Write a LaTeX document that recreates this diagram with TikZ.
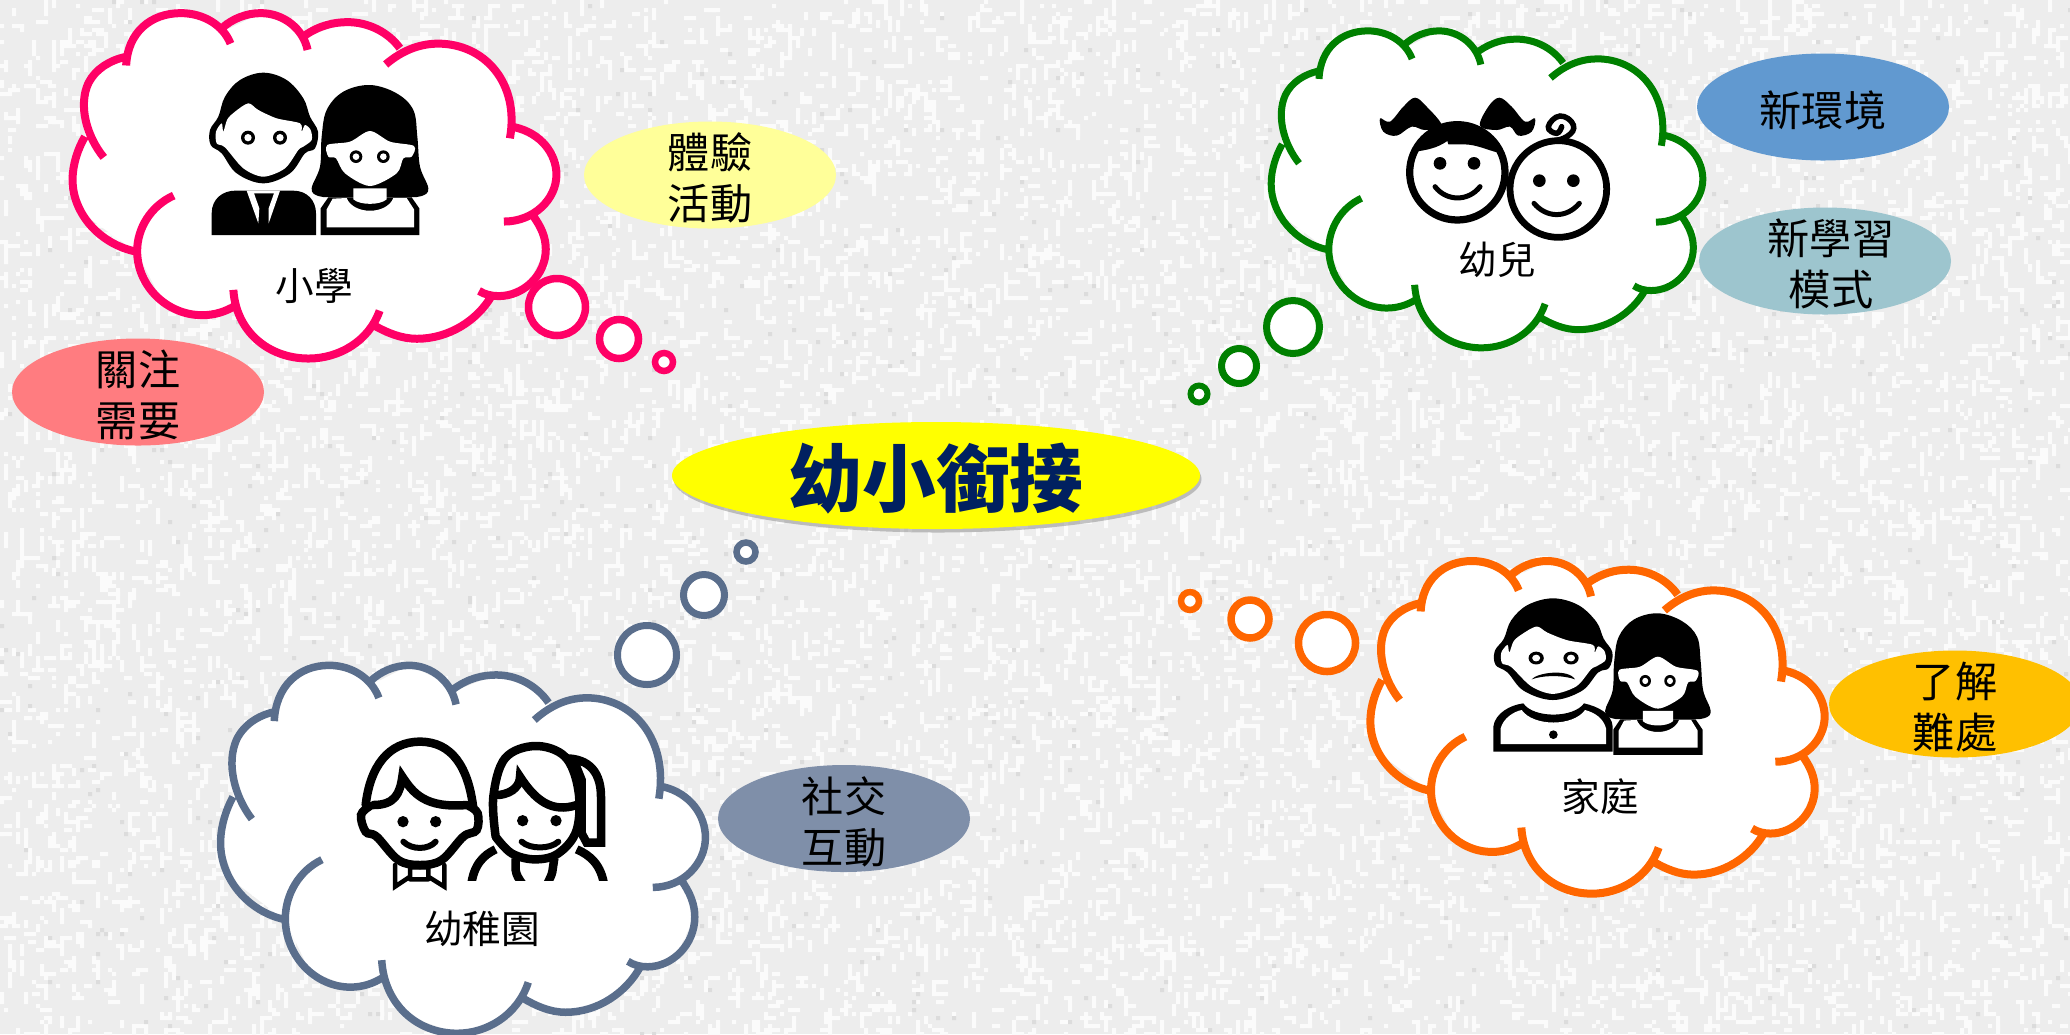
\documentclass[tikz,border=0pt]{standalone}
\usepackage{fontspec}
\setmainfont{Noto Sans CJK TC}
\usetikzlibrary{shapes.geometric}
\usetikzlibrary{shadows}
\definecolor{paper}{HTML}{EDEDED}
\definecolor{specklight}{HTML}{FBFBFB}
\definecolor{speckdark}{HTML}{DCDCDC}
\definecolor{pinkline}{HTML}{FF0066}
\definecolor{greenline}{HTML}{008000}
\definecolor{slateline}{HTML}{5A6E8C}
\definecolor{orangeline}{HTML}{FF6600}
\definecolor{navytext}{HTML}{002060}
\definecolor{brightyellow}{HTML}{FFFF00}
\definecolor{paleyellow}{HTML}{FFFF99}
\definecolor{salmon}{HTML}{FF7C80}
\definecolor{skyblue}{HTML}{6199D0}
\definecolor{paleteal}{HTML}{9DC5CE}
\definecolor{slatefill}{HTML}{7F8FA9}
\definecolor{amber}{HTML}{FFC000}

\tikzset{
    bubble/.style={circle,fill=white,inner sep=0pt,minimum size={(2*#1-7)*0.2mm}},
    side label/.style={ellipse,inner sep=0pt,minimum width=50.4mm,minimum height=21.4mm},
    side text/.style={inner sep=0pt,align=center,yshift=-0.6mm,font=\fontsize{24}{29}\selectfont},
    cloud label/.style={inner sep=0pt,font=\fontsize{22}{26}\selectfont},
    thick ink/.style={black,line width=#1*0.2mm,line cap=round},
    womanicon/.pic={
        \fill plot[smooth cycle,tension=.6] coordinates {(540,75) (460,95) (410,150) (395,230)
            (390,320) (365,385) (385,408) (440,412) (640,412) (695,408) (715,385) (690,320)
            (682,230) (670,150) (620,100)};
        \fill (392,525) -- (392,445) -- (415,412) -- (665,412) -- (688,445) -- (688,525) -- cycle;
        \fill[white] plot[smooth cycle,tension=.5] coordinates {(412,255) (480,245) (540,213)
            (600,245) (672,258) (665,290) (640,295) (620,340) (540,378) (465,340) (438,295) (415,290)};
        \fill[white] (490,385) -- (590,385) -- (590,418) .. controls (570,436) and (510,436) .. (490,418) -- cycle;
        \fill[white] (410,502) -- (410,448) -- (428,416) -- (470,414) .. controls (490,465) and (590,465) .. (610,414)
            -- (650,414) -- (672,448) -- (672,502) -- cycle;
        \fill (498,290) circle[radius=19] (580,290) circle[radius=19];
        \fill[white] (498,290) circle[radius=10] (580,290) circle[radius=10];
    },
    manhead/.pic={
        \fill plot[smooth cycle,tension=.6] coordinates {(85,170) (105,110) (150,60) (220,38) (290,60)
            (340,115) (360,170) (384,215) (375,265) (345,280) (300,340) (220,370) (140,340)
            (95,280) (62,255) (60,210)};
        \fill[white] plot[smooth cycle,tension=.5] coordinates {(112,178) (135,155) (175,130) (205,150)
            (260,175) (330,190) (335,215) (345,195) (362,210) (365,240) (340,260) (325,270)
            (285,325) (220,350) (160,325) (105,262) (80,250) (78,215) (95,190) (100,215)};
        \fill (174,233) circle[radius=21] (270,233) circle[radius=21];
        \fill[white] (174,233) circle[radius=11] (270,233) circle[radius=11];
    }
}

% one cloud, lobe by lobe: left, top, width, height, colour, line width
\newcommand{\thoughtcloud}[6]{
    \pgfmathsetmacro{\sx}{#3/1383}
    \pgfmathsetmacro{\sy}{#4/1015}
    \begin{scope}[shift={({#1-80*\sx},{#2-55*\sy})},xscale=\sx,yscale=\sy]
    \fill[white] (125,420) -- (118,340) -- (150,240) -- (241,195) -- (265,130) -- (320,80) -- (395,64)
        -- (480,90) -- (518,115) -- (620,64) -- (720,110) -- (745,135) -- (860,90) -- (960,120) -- (1005,170)
        -- (1120,152) -- (1260,200) -- (1330,350) -- (1330,392) -- (1420,450) -- (1453,530) -- (1425,600) -- (1385,640)
        -- (1423,745) -- (1370,850) -- (1285,880) -- (1265,885) -- (1190,970) -- (1060,1003) -- (940,970)
        -- (900,1020) -- (755,1060) -- (620,1015) -- (548,910) -- (455,935) -- (340,890) -- (272,755)
        -- (130,650) -- (90,545) -- cycle;
    \draw[#5,line width=#6*0.2mm]
        (178,480) .. controls (130,420) and (105,330) .. (135,265) .. controls (155,225) and (195,200) .. (240,190)
        (241,215) .. controls (245,120) and (310,64) .. (395,64) .. controls (460,64) and (515,100) .. (535,152)
        (510,108) .. controls (540,80) and (580,64) .. (620,64) .. controls (685,64) and (740,110) .. (752,170)
        (745,128) .. controls (785,100) and (825,90) .. (865,90) .. controls (925,90) and (980,120) .. (1012,165)
        (972,212) .. controls (1020,170) and (1070,152) .. (1120,152) .. controls (1250,152) and (1350,265) .. (1322,425)
        (1335,393) .. controls (1410,410) and (1453,470) .. (1453,530) .. controls (1453,600) and (1390,665) .. (1305,665)
        (1385,645) .. controls (1410,680) and (1423,710) .. (1423,745) .. controls (1423,820) and (1360,880) .. (1290,880) .. controls (1270,880) and (1250,875) .. (1235,865)
        (1270,880) .. controls (1230,950) and (1150,1003) .. (1060,1003) .. controls (1015,1003) and (975,985) .. (940,965)
        (955,922) .. controls (925,1010) and (840,1060) .. (755,1060) .. controls (640,1060) and (550,980) .. (543,862)
        (375,590) .. controls (310,620) and (272,685) .. (272,750) .. controls (272,850) and (355,935) .. (455,935) .. controls (490,935) and (520,925) .. (548,908)
        (270,752) .. controls (165,730) and (90,640) .. (90,545) .. controls (90,500) and (105,455) .. (125,420);
    \end{scope}
}

\begin{document}
\begin{tikzpicture}[x=0.2mm,y=-0.2mm]
    \useasboundingbox (0,0) rectangle (2070,1034);
    \fill[paper] (0,0) rectangle (2070,1034);

    % speckled paper
    \pgfmathsetseed{7}
    \foreach \k in {1,...,20}{
        \fill[specklight] \foreach \i in {1,...,300}{ ({4*random(0,517)},{4*random(0,258)}) rectangle +(4,{4*random(1,4)}) };
        \fill[specklight] \foreach \i in {1,...,300}{ ({4*random(0,517)},{4*random(0,258)}) rectangle +({4*random(1,3)},4) };
    }
    \foreach \k in {1,...,4}{
        \fill[speckdark] \foreach \i in {1,...,200}{ ({4*random(0,517)},{4*random(0,258)}) rectangle +(4,4) };
    }

    % clouds
    \thoughtcloud{69}{10}{491}{352}{pinkline}{8}
    \thoughtcloud{1268}{28}{438}{323}{greenline}{7}
    \thoughtcloud{217}{662}{492}{375}{slateline}{7.5}
    \thoughtcloud{1367}{558}{461}{339}{orangeline}{8}

    % bubbles
    \node[bubble=32,draw=pinkline,line width=1.5mm] (pinkbig) at (557,307) {};
    \node[bubble=23,draw=pinkline,line width=1.5mm] (pinkmid) at (619,339) {};
    \node[bubble=13.5,minimum size=3.6mm,draw=pinkline,line width=1.3mm] (pinksmall) at (664,362) {};
    \node[bubble=30,draw=greenline,line width=1.4mm] (greenbig) at (1293,327) {};
    \node[bubble=21,draw=greenline,line width=1.4mm] (greenmid) at (1239,366) {};
    \node[bubble=12,minimum size=3.4mm,draw=greenline,line width=1.2mm] (greensmall) at (1199,394) {};
    \node[bubble=33,draw=slateline,line width=1.4mm] (slatebig) at (647,655) {};
    \node[bubble=24,draw=slateline,line width=1.4mm] (slatemid) at (704,595) {};
    \node[bubble=14,minimum size=3.8mm,draw=slateline,line width=1.3mm] (slatesmall) at (746,552) {};
    \node[bubble=32,draw=orangeline,line width=1.5mm] (orangebig) at (1327,643) {};
    \node[bubble=22.5,draw=orangeline,line width=1.5mm] (orangemid) at (1250,619) {};
    \node[bubble=13,minimum size=3.6mm,draw=orangeline,line width=1.3mm] (orangesmall) at (1190,601) {};

    % teachers
    \begin{scope}[shift={(190,60)},scale=1/3]
    \pic[transform shape] at (0,0) {manhead};
    \pic[transform shape] at (0,0) {womanicon};
    \fill (65,525) -- (65,460) .. controls (65,415) and (100,392) .. (135,392) -- (310,392)
        .. controls (350,392) and (378,420) .. (378,460) -- (378,525) -- cycle;
    \fill[white] (170,392) -- (205,490) -- (208,445) -- (192,400) -- (252,400) -- (236,445) -- (236,490)
        -- (270,392) -- cycle;
    \end{scope}

    % children
    \begin{scope}[shift={(1370,85)},scale=1/3]
    \draw[line width=1.45mm] (262,262) circle[radius=143];
    \draw[line width=1.35mm] (565,312) circle[radius=145];
    \fill (135,200) .. controls (145,150) and (200,115) .. (262,115) .. controls (325,115) and (385,150) .. (392,205)
        .. controls (350,195) and (320,178) .. (280,178) -- (235,178) -- (232,168) .. controls (200,190) and (170,195) .. (135,200) -- cycle;
    \fill plot[smooth cycle,tension=.6] coordinates {(30,100) (60,110) (100,65) (135,38) (170,65)
        (215,122) (165,135) (125,125) (80,152) (40,140)};
    \fill plot[smooth cycle,tension=.6] coordinates {(495,100) (465,110) (425,65) (388,38) (355,65)
        (330,122) (380,135) (420,125) (445,152) (485,140)};
    \fill (210,235) circle[radius=19] (312,235) circle[radius=19] (508,287) circle[radius=19] (610,287) circle[radius=19];
    \draw[thick ink=5] (195,305) .. controls (230,350) and (295,350) .. (330,305);
    \draw[thick ink=5] (492,355) .. controls (530,400) and (590,400) .. (628,355);
    \draw[thick ink=5.5] plot[smooth,tension=.8] coordinates {(530,172) (590,155) (610,120) (570,93) (535,125) (560,145) (575,125)};
    \end{scope}

    % kindergarten pupils
    \begin{scope}[shift={(345,730)},scale=1/3]
    \draw[thick ink=8.5] (62,225) .. controls (75,110) and (130,35) .. (225,35) .. controls (320,35) and (370,110) .. (385,235);
    \draw[thick ink=8.5] (85,225) .. controls (150,225) and (165,190) .. (172,140) .. controls (205,190) and (240,235) .. (365,225);
    \draw[thick ink=8.5] plot[smooth,tension=.6] coordinates {(75,228) (48,255) (62,305) (95,320) (160,390)
        (225,405) (290,390) (355,320) (395,300) (398,250) (372,228)};
    \fill (174,275) circle[radius=17] (272,275) circle[radius=17] (533,272) circle[radius=17] (633,272) circle[radius=17];
    \draw[thick ink=6] (175,335) .. controls (200,360) and (250,360) .. (272,335);
    \draw[thick ink=6] (530,335) .. controls (555,358) and (615,358) .. (640,335);
    \draw[thick ink=4.5] (150,405) -- (150,470) -- (195,440) -- (195,412) (298,405) -- (298,470) -- (250,440) -- (250,412)
        (195,412) -- (250,412) (195,448) -- (250,448);
    \draw[thick ink=8.5] plot[smooth,tension=.6] coordinates {(452,320) (445,200) (480,85) (570,48) (660,80) (700,180) (695,300)
        (640,370) (570,388) (500,370) (452,320)};
    \draw[thick ink=8.5] (460,195) .. controls (510,190) and (525,160) .. (525,140) .. controls (570,210) and (620,250) .. (695,225);
    \draw[line width=1.7mm,line join=miter] (660,85) .. controls (735,85) and (768,130) .. (768,200) -- (768,338) -- (725,338) -- (710,310) -- (710,150) -- (690,100);
    \begin{scope}
    \clip (350,340) rectangle (800,452);
    \draw[line width=1.7mm] (378,470) .. controls (385,405) and (415,375) .. (452,358);
    \draw[line width=1.7mm] (778,470) .. controls (770,405) and (735,375) .. (695,358);
    \draw[line width=1.7mm] (512,385) -- (512,420) .. controls (514,435) and (520,445) .. (535,465);
    \draw[line width=1.7mm] (628,385) -- (622,425) .. controls (620,435) and (615,445) .. (605,465);
    \end{scope}
    \end{scope}

    % parents
    \begin{scope}[shift={(1480,590)},scale=1/3]
    \pic[transform shape,xscale=1.089,yscale=.919] at (-21,-10) {manhead};
    \pic[transform shape,xscale=.905,yscale=.944] at (45,-1) {womanicon};
    \fill (40,485) -- (40,410) .. controls (45,370) and (90,345) .. (130,340) .. controls (160,385) and (280,385) .. (312,340)
        .. controls (355,350) and (395,370) .. (398,410) -- (398,485) -- cycle;
    \fill[white] (62,462) -- (62,415) .. controls (70,385) and (100,365) .. (125,360) .. controls (160,410) and (280,410) .. (315,360)
        .. controls (345,368) and (370,385) .. (378,415) -- (378,462) -- cycle;
    \fill (220,434) circle[radius=13];
    \fill (155,268) .. controls (170,248) and (265,235) .. (285,268) .. controls (250,255) and (190,255) .. (155,268) -- cycle;
    \end{scope}

    % labels in the clouds
    \node[cloud label] (primary) at (314,286) {小學};
    \node[cloud label] (child) at (1497,260) {幼兒};
    \node[cloud label] (kinder) at (482,929) {幼稚園};
    \node[cloud label] (family) at (1600,797) {家庭};

    % side ellipses
    \node[side label,fill=paleyellow] (tryout) at (710,175) {};
    \node[side text] (tryouttext) at (tryout) {體驗\\活動};
    \node[side label,fill=salmon] (needs) at (138,392) {};
    \node[side text] (needstext) at (needs) {關注\\需要};
    \node[side label,fill=skyblue] (newplace) at (1823,107) {};
    \node[side text] (newplacetext) at (newplace) {新環境};
    \node[side label,fill=paleteal] (newstudy) at (1825,261) {};
    \node[side text,xshift=1.2mm] (newstudytext) at (newstudy) {新學習\\模式};
    \node[side label,fill=slatefill] (social) at (844,818.5) {};
    \node[side text] (socialtext) at (social) {社交\\互動};
    \node[side label,fill=amber] (trouble) at (1955,704) {};
    \node[side text] (troubletext) at (trouble) {了解\\難處};

    % centre
    \node[ellipse,fill=brightyellow,inner sep=0pt,minimum width=105.6mm,minimum height=21.4mm,
        drop shadow={shadow xshift=0.3mm,shadow yshift=-0.7mm,opacity=.45}] (bridge) at (936,475.5) {};
    \node[inner sep=0pt,yshift=-0.6mm,text=navytext,font=\fontsize{42}{48}\selectfont\bfseries] (bridgetext) at (bridge) {幼小銜接};
\end{tikzpicture}
\end{document}
